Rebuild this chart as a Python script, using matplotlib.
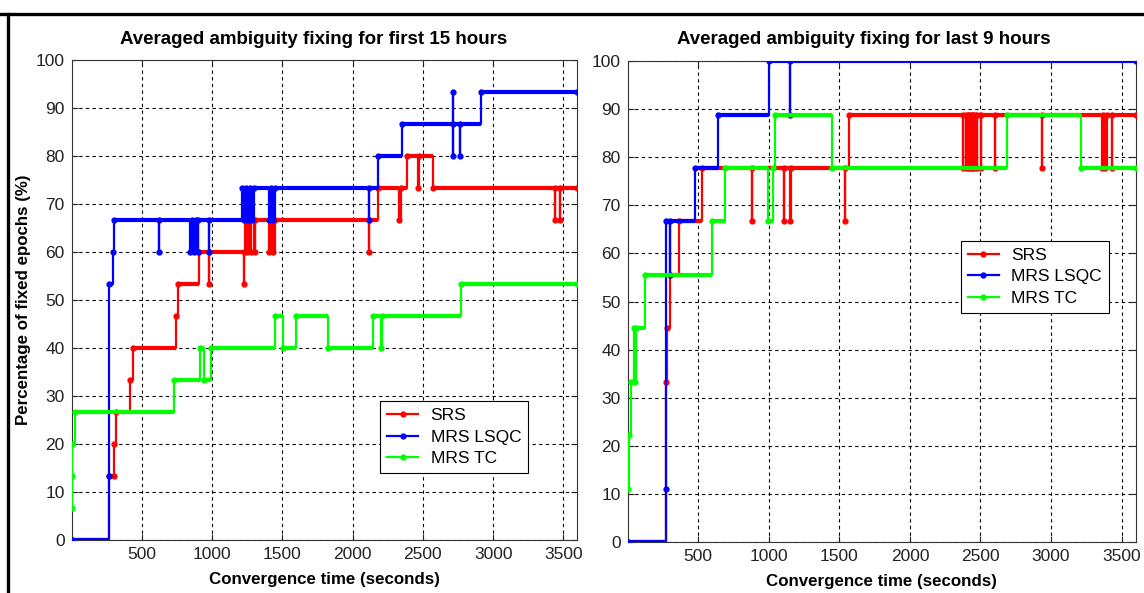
import matplotlib
matplotlib.use('Agg')
import matplotlib.pyplot as plt
from matplotlib.lines import Line2D

plt.rcParams['font.family'] = ['Liberation Sans', 'DejaVu Sans']

labels = ['SRS', 'MRS LSQC', 'MRS TC']
colors = ['#ff0000', '#0000ff', '#00ff00']
titles = ['Averaged ambiguity fixing for first 15 hours',
          'Averaged ambiguity fixing for last 9 hours']

# first 15 hours
srs_first_t = [0, 270, 300, 305, 315, 413, 438, 743, 760, 910, 975, 975, 1229, 1229,
               1236, 1250, 1265, 1280, 1295, 1307, 1307, 1407, 1420, 1435, 1450,
               2117, 2117, 2181, 2330, 2345, 2384, 2465, 2475, 2572,
               3438, 3438, 3473, 3473, 3600]
srs_first_v = [0, 13.33, 13.33, 20, 26.67, 33.33, 40, 46.67, 53.33, 60, 53.33, 60, 53.33, 60,
               66.67, 60, 66.67, 60, 66.67, 60, 66.67, 60, 66.67, 60, 66.67,
               60, 66.67, 73.33, 66.67, 73.33, 80, 73.33, 80, 73.33,
               66.67, 73.33, 66.67, 73.33, 73.33]

lsqc_first_t = [0, 270, 270, 296, 300, 623, 623, 845, 860, 870, 885, 900, 900,
                975, 975, 1212, 1225, 1240, 1255, 1270, 1285, 1300,
                1407, 1420, 1435, 1450, 2117, 2117, 2181, 2348,
                2711, 2711, 2711, 2763, 2763, 2917, 3600]
lsqc_first_v = [0, 13.33, 53.33, 60, 66.67, 60, 66.67, 60, 66.67, 60, 66.67, 60, 66.67,
                60, 66.67, 73.33, 66.67, 73.33, 66.67, 73.33, 66.67, 73.33,
                66.67, 73.33, 66.67, 73.33, 66.67, 73.33, 80, 86.67,
                93.33, 80, 86.67, 80, 86.67, 93.33, 93.33]

tc_first_t = [0, 0, 3, 25, 727, 916, 940, 992, 1449, 1503, 1600, 1828,
              2143, 2200, 2212, 2770, 3600]
tc_first_v = [6.67, 13.33, 20, 26.67, 33.33, 40, 33.33, 40, 46.67, 40, 46.67, 40,
              46.67, 40, 46.67, 53.33, 53.33]

# last 9 hours
srs_last_t = [0, 270, 275, 300, 363, 524, 880, 880, 1106, 1106, 1150, 1160,
              1540, 1540, 1566, 2375, 2375, 2400, 2400, 2410, 2410, 2420, 2420,
              2430, 2430, 2440, 2440, 2450, 2450, 2460, 2460, 2475, 2475, 2505, 2505,
              2605, 2605, 2935, 2935, 3360, 3370, 3380, 3395, 3430, 3430, 3600]
srs_last_v = [0, 33.33, 44.44, 55.56, 66.67, 77.78, 66.67, 77.78, 66.67, 77.78, 66.67, 77.78,
              66.67, 77.78, 88.89, 77.78, 88.89, 77.78, 88.89, 77.78, 88.89, 77.78, 88.89,
              77.78, 88.89, 77.78, 88.89, 77.78, 88.89, 77.78, 88.89, 77.78, 88.89, 77.78, 88.89,
              77.78, 88.89, 77.78, 88.89, 77.78, 88.89, 77.78, 88.89, 77.78, 88.89, 88.89]

lsqc_last_t = [0, 270, 270, 299, 299, 477, 638, 999, 1153, 1153, 3600]
lsqc_last_v = [0, 11.11, 66.67, 55.56, 66.67, 77.78, 88.89, 100, 88.89, 100, 100]

tc_last_t = [0, 10, 20, 45, 50, 60, 121, 596, 690, 997, 1032, 1046, 1450,
             2688, 3210, 3600]
tc_last_v = [11.11, 22.22, 33.33, 44.44, 33.33, 44.44, 55.56, 66.67, 77.78, 66.67, 77.78,
             88.89, 77.78, 88.89, 77.78, 77.78]

panels = [
    [(srs_first_t, srs_first_v), (lsqc_first_t, lsqc_first_v), (tc_first_t, tc_first_v)],
    [(srs_last_t, srs_last_v), (lsqc_last_t, lsqc_last_v), (tc_last_t, tc_last_v)],
]
legend_pos = [(0.61, 0.14), (0.656, 0.477)]
title_x = [0.479, 0.465]

fig = plt.figure(figsize=(11.44, 5.93), dpi=100)
axes = [fig.add_axes([0.0625, 0.0894, 0.4423, 0.8086]),
        fig.add_axes([0.5487, 0.086, 0.444, 0.811])]

for k, ax in enumerate(axes):
    for i, (t, v) in enumerate(panels[k]):
        ax.hlines(v[:-1], t[:-1], t[1:], colors=colors[i], lw=3, zorder=3 + i)
        ax.plot(t, v, drawstyle='steps-post', color=colors[i], lw=1.6,
                marker='.', ms=7, label=labels[i], zorder=3 + i)
    ax.set_xlim(0, 3600)
    ax.set_ylim(0, 100)
    ax.set_xticks([500, 1000, 1500, 2000, 2500, 3000, 3500])
    ax.set_yticks(range(0, 101, 10))
    ax.tick_params(direction='in', length=4, labelsize=12.5, top=True, right=True,
                   colors='#222222', pad=5)
    ax.grid(True, color='black', ls=(0, (3, 3)), lw=0.8)
    ax.set_axisbelow(True)
    for s in ax.spines.values():
        s.set_color('#333333')
        s.set_linewidth(0.8)
    ttl = ax.set_title(titles[k], fontsize=13.5, fontweight='bold', pad=12)
    ttl.set_x(title_x[k])
    ax.set_xlabel('Convergence time (seconds)', fontsize=12.2, fontweight='bold', labelpad=7)
    leg = ax.legend(loc='lower left', bbox_to_anchor=legend_pos[k], borderaxespad=0,
                    fontsize=12.5, numpoints=1, fancybox=False, framealpha=1,
                    edgecolor='black', handlelength=1.8, handletextpad=0.7,
                    labelspacing=0.35, borderpad=0.4)
    leg.get_frame().set_linewidth(0.8)
    leg.set_zorder(10)

axes[0].set_ylabel('Percentage of fixed epochs (%)', fontsize=12.2, fontweight='bold')
axes[0].yaxis.set_label_coords(-0.08, 0.5)

# outer frame lines of the original screenshot
fig.add_artist(Line2D([0, 1], [0.976, 0.976], color='black', lw=2.4))
fig.add_artist(Line2D([0.0066, 0.0066], [0, 0.976], color='black', lw=2.4))

fig.savefig('out.png', dpi=100, facecolor='white')
